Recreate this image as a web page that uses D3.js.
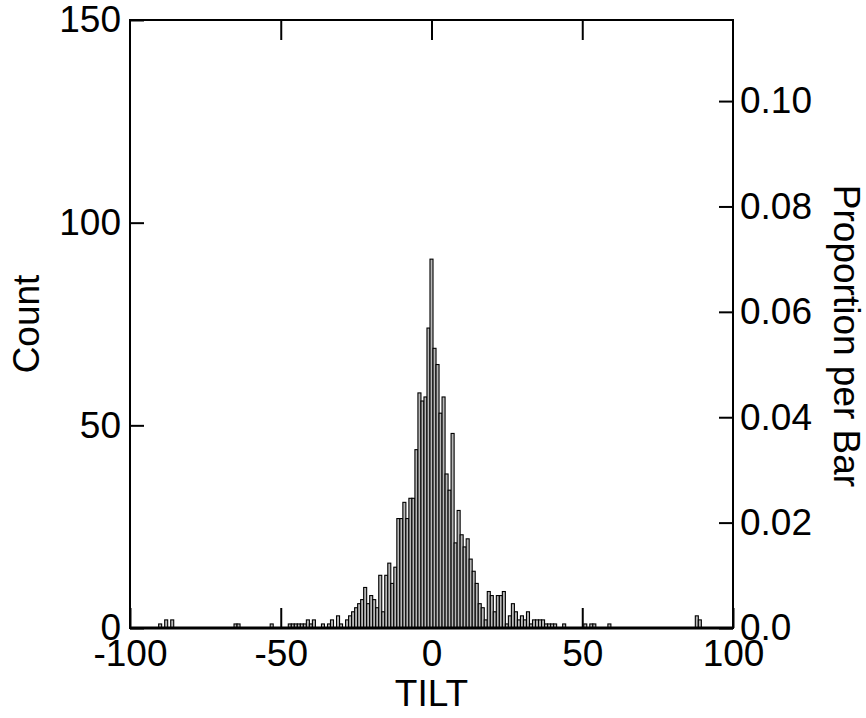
<!DOCTYPE html>
<html>
<head>
<meta charset="utf-8">
<script src="https://cdn.jsdelivr.net/npm/d3@7"></script>
<style>
  body { margin: 0; background: #fff; }
  text { font-family: "Liberation Sans", Arial, Helvetica, sans-serif; }
</style>
</head>
<body>
<div id="chart"></div>
<script>
// TILT bins (1 degree wide, centred on the integer) and their counts; empty bins left out
var tiltBins = [
  -90, -88, -86, -65, -64, -53,
  -47, -46, -45, -44, -43, -42, -41, -40, -39, -36, -34, -33, -31, -30,
  -28, -27, -26, -25, -24, -23, -22, -21, -20, -19, -18, -17, -16, -15,
  -14, -13, -12, -11, -10, -9, -8, -7, -6, -5, -4, -3, -2, -1, 0,
  1, 2, 3, 4, 5, 6, 7, 8, 9, 10, 11, 12, 13, 14, 15, 16, 17, 18, 19, 20,
  21, 22, 23, 24, 25, 26, 27, 28, 29, 30, 31, 32, 33, 34, 35, 36, 37, 38,
  39, 40, 41, 44, 51, 53, 54, 59, 88, 89
];
var counts = [
  1, 2, 2, 1, 1, 1,
  1, 1, 1, 1, 1, 1, 2, 1, 2, 1, 1, 2, 3, 1,
  2, 3, 4, 5, 6, 7, 10, 6, 8, 7, 5, 13, 4, 13,
  16, 11, 15, 27, 27, 31, 27, 32, 32, 44, 58, 56, 57, 74, 91,
  69, 65, 53, 57, 38, 34, 48, 21, 29, 23, 20, 22, 17, 14, 11, 6, 5, 2, 9, 8,
  4, 8, 8, 9, 1, 3, 6, 4, 2, 3, 2, 4, 1, 2, 2, 2, 2, 1,
  1, 1, 1, 1, 1, 1, 1, 1, 3, 2
];
// number of cases behind the proportion axis
var totalCases = 1300;

var xTicks = [-100, -50, 0, 50, 100];
var countTicks = [0, 50, 100, 150];
var propTicks = [0, 0.02, 0.04, 0.06, 0.08, 0.10];

function drawHistogram(containerId) {
  var w = 866, h = 718;
  var m = { left: 130, right: 733, top: 20, bottom: 628 };
  var fontSize = "37px";

  var data = tiltBins.map(function (b, i) { return { bin: b, count: counts[i] }; });

  var x = d3.scaleLinear().domain([-100, 100]).range([m.left, m.right]);
  var y = d3.scaleLinear().domain([0, 150]).range([m.bottom, m.top]);
  // proportion axis shares the count axis: proportion = count / totalCases
  var yProp = d3.scaleLinear().domain([0, 150 / totalCases]).range([m.bottom, m.top]);

  var svg = d3.select(containerId).append("svg")
    .attr("width", w)
    .attr("height", h);

  function styleAxis(g) {
    g.select(".domain").remove();
    g.selectAll(".tick line").attr("stroke", "#000").attr("stroke-width", 2);
    g.selectAll(".tick text").attr("fill", "#000").style("font-size", fontSize);
  }

  // left: Count
  svg.append("g")
    .attr("transform", "translate(" + m.left + ",0)")
    .call(d3.axisLeft(y).tickValues(countTicks).tickSizeInner(-14).tickSizeOuter(0).tickPadding(9))
    .call(styleAxis);

  // right: proportion per bar
  svg.append("g")
    .attr("transform", "translate(" + m.right + ",0)")
    .call(d3.axisRight(yProp).tickValues(propTicks).tickSizeInner(-14).tickSizeOuter(0).tickPadding(7)
      .tickFormat(function (d) { return d === 0 ? "0.0" : d3.format(".2f")(d); }))
    .call(styleAxis);

  // bottom: TILT (plain hyphen for negatives, as in the original)
  svg.append("g")
    .attr("transform", "translate(0," + m.bottom + ")")
    .call(d3.axisBottom(x).tickValues(xTicks).tickSizeInner(-20).tickSizeOuter(0).tickPadding(12)
      .tickFormat(function (d) { return String(d); }))
    .call(styleAxis);

  // top: ticks only
  svg.append("g")
    .attr("transform", "translate(0," + m.top + ")")
    .call(d3.axisTop(x).tickValues([-50, 0, 50]).tickSizeInner(-20).tickSizeOuter(0).tickFormat(""))
    .call(styleAxis);

  // bars
  svg.append("g")
    .selectAll("rect")
    .data(data)
    .enter().append("rect")
    .attr("x", function (d) { return x(d.bin - 0.5); })
    .attr("width", function (d) { return x(d.bin + 0.5) - x(d.bin - 0.5); })
    .attr("y", function (d) { return y(d.count); })
    .attr("height", function (d) { return y(0) - y(d.count); })
    .attr("fill", "#b8b8b8")
    .attr("stroke", "#000")
    .attr("stroke-width", 1.1);

  // frame
  svg.append("rect")
    .attr("x", m.left).attr("y", m.top)
    .attr("width", m.right - m.left).attr("height", m.bottom - m.top)
    .attr("fill", "none")
    .attr("stroke", "#000")
    .attr("stroke-width", 2);
  svg.append("line")
    .attr("x1", m.left).attr("x2", m.right)
    .attr("y1", m.bottom).attr("y2", m.bottom)
    .attr("stroke", "#000").attr("stroke-width", 3);

  // axis titles
  svg.append("text")
    .attr("transform", "translate(" + ((m.left + m.right) / 2) + ",706)")
    .attr("text-anchor", "middle")
    .style("font-size", fontSize)
    .text("TILT");

  svg.append("text")
    .attr("transform", "translate(39,324) rotate(-90)")
    .attr("text-anchor", "middle")
    .style("font-size", fontSize)
    .text("Count");

  svg.append("text")
    .attr("transform", "translate(834,336) rotate(90)")
    .attr("text-anchor", "middle")
    .style("font-size", fontSize)
    .text("Proportion per Bar");
}

drawHistogram("#chart");
</script>
</body>
</html>
